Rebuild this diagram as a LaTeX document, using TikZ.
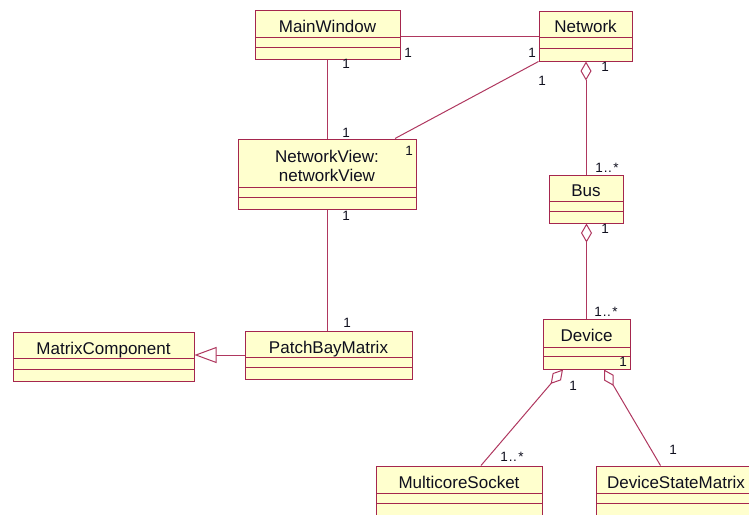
\documentclass[tikz,border=0pt]{standalone}
\usepackage{fontspec}
\setmainfont{Liberation Sans}
\usetikzlibrary{arrows.meta,fit}
\definecolor{umlborder}{RGB}{165,38,78}
\definecolor{umlline}{RGB}{175,55,95}
\definecolor{umlfill}{RGB}{255,255,206}
\definecolor{umltext}{RGB}{15,15,30}

% class box: name, x1, y1, x2, y2, first rule, second rule, baseline, title
\newcommand\umlclass[9]{%
  \node[classbox, fit={(#2,#3)(#4,#5)}] (#1) {};
  \draw[classrule] (#2,#6) -- (#4,#6) (#2,#7) -- (#4,#7);
  \node[classname, anchor=base] (#1-title) at ({(#2+#4)/2},#8) {#9};
}

\begin{document}
\begin{tikzpicture}[x=1pt,y=-1pt,
  classbox/.style={draw=umlborder, fill=umlfill, line width=1pt, inner sep=0pt},
  classrule/.style={draw=umlborder, line width=1pt},
  classname/.style={text=umltext, font=\fontsize{17}{18.5}\selectfont, inner sep=0pt},
  mult/.style={text=umltext, font=\fontsize{13.5}{15}\selectfont, inner sep=0pt},
  assoc/.style={draw=umlline, line width=1pt},
  aggr/.style={assoc, line join=miter, -{Diamond[open,fill=white,length=19pt,width=11pt]}},
  generalize/.style={assoc, line join=miter, -{Triangle[open,fill=white,length=22pt,width=16pt]}},
]
\useasboundingbox (0,0) rectangle (749,514);
\clip (0,0) rectangle (749,514);

% classes
\umlclass{mw}{255}{10}{400}{59}{37}{47}{32}{MainWindow}
\umlclass{net}{539}{11}{632}{61}{37}{48}{32}{Network}
\node[classbox, fit={(238,139)(416,209)}] (nv) {};
\draw[classrule] (238,187) -- (416,187) (238,197) -- (416,197);
\node[classname, align=center] (nv-title) at (327,166) {NetworkView:\\networkView};
\umlclass{bus}{549}{175}{623}{223}{201}{211}{196}{Bus}
\umlclass{mc}{13}{332}{194}{381}{358}{369}{354}{MatrixComponent}
\umlclass{pbm}{245}{331}{412}{379}{357}{367}{353}{PatchBayMatrix}
\umlclass{dev}{543}{319}{630}{369}{347}{356}{341}{Device}
\umlclass{ms}{376}{466}{542}{530}{493}{503}{488}{MulticoreSocket}
\umlclass{dsm}{596}{466}{756}{530}{493}{503}{488}{DeviceStateMatrix}

% associations
\draw[assoc] ([yshift=-27pt]mw.north east) -- ([yshift=-26pt]net.north west);
\draw[assoc] (mw.south) -- (mw.south |- nv.north);
\draw[assoc] (net.south west) -- ([xshift=68pt]nv.north);
\draw[assoc] (nv.south) -- (nv.south |- pbm.north);
\draw[aggr] (bus.north) -- (bus.north |- net.south);
\draw[aggr] (dev.north) -- (dev.north |- bus.south);
\draw[aggr] ([xshift=22pt]ms.north) -- ([xshift=-23.5pt]dev.south);
\draw[aggr] ([xshift=65pt]dsm.north west) -- ([xshift=17.5pt]dev.south);
\draw[generalize] (pbm.west) -- (mc.east |- pbm.west);

% multiplicities
\node[mult] (m1) at (408,53) {1};
\node[mult] (m2) at (532,53) {1};
\node[mult] (m3) at (346,64) {1};
\node[mult] (m4) at (605,67) {1};
\node[mult] (m5) at (542,81) {1};
\node[mult] (m6) at (346,133) {1};
\node[mult] (m7) at (409,151) {1};
\node[mult] (m8) at (346,216) {1};
\node[mult] (m9) at (347,323) {1};
\node[mult] (m10) at (607,168) {1\kern1pt.\kern0.5pt.\kern1.5pt*};
\node[mult] (m11) at (605,229) {1};
\node[mult] (m12) at (606,312) {1\kern1pt.\kern0.5pt.\kern1.5pt*};
\node[mult] (m13) at (623,362) {1};
\node[mult] (m14) at (573,386) {1};
\node[mult] (m15) at (512,457) {1\kern1pt.\kern0.5pt.\kern1.5pt*};
\node[mult] (m16) at (673,450) {1};
\end{tikzpicture}
\end{document}
